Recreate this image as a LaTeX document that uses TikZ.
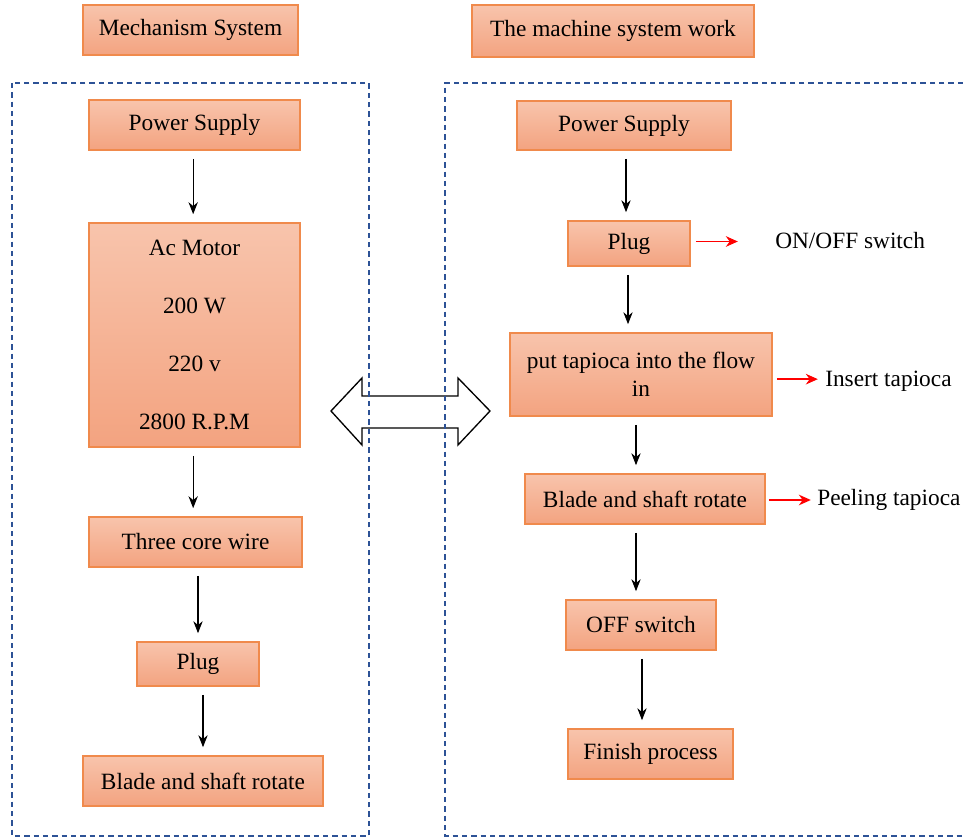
\documentclass[tikz,border=0pt]{standalone}
\usepackage{fontspec}
\setmainfont{Liberation Serif}
\newfontfamily\tms{Liberation Serif}
\usetikzlibrary{arrows.meta,calc}
\definecolor{boxtop}{RGB}{248,196,172}
\definecolor{boxbot}{RGB}{243,163,128}
\definecolor{boxline}{RGB}{240,138,76}
\definecolor{dashblue}{RGB}{45,82,150}
\begin{document}
\begin{tikzpicture}[x=0.75pt,y=-0.75pt,
 fbox/.style={draw=boxline, line width=1.2pt, top color=boxtop, bottom color=boxbot, inner sep=0pt, align=center, font=\tms\fontsize{17.5}{21}\selectfont},
 flow/.style={-{Stealth[length=9pt,width=7pt]}, line width=0.8pt, shorten <=6pt, shorten >=6pt},
 redflow/.style={-{Stealth[length=9pt,width=8pt]}, red, line width=1pt},
 lbl/.style={anchor=west, inner sep=0pt, font=\tms\fontsize{17.5}{21}\selectfont},
 group/.style={dashblue, line width=0.9pt, dash pattern=on 4pt off 3pt}]
\useasboundingbox (0,0) rectangle (963,837);

% double arrow
\draw[line width=1pt, fill=white] (331,411) -- (362,378) -- (362,396) -- (458,396) -- (458,378) -- (490,411) -- (458,445) -- (458,428) -- (362,428) -- (362,445) -- cycle;

% dashed groups
\draw[group] (12,83) rectangle (369,836);
\draw[group] (963,83) -- (445,83) -- (445,836) -- (963,836);

% titles
\node[fbox, minimum width=161.25pt, minimum height=37.5pt] (mech) at (190.5,30) {Mechanism System};
\node[fbox, minimum width=211.5pt, minimum height=39pt] (work) at (613,31) {The machine system work};

% left column
\node[fbox, minimum width=158.25pt, minimum height=37.5pt] (LPS) at (194.5,125) {Power Supply};
\node[fbox, minimum width=158.25pt, minimum height=168pt, font=\tms\fontsize{17.5}{43.5}\selectfont] (motor) at (194.5,335) {Ac Motor\\200 W\\220 v\\2800 R.P.M};
\node[fbox, minimum width=159.75pt, minimum height=37.5pt] (TCW) at (195.5,542) {Three core wire};
\node[fbox, minimum width=91.5pt, minimum height=33pt] (LPlug) at (198,664) {Plug};
\node[fbox, minimum width=180pt, minimum height=37.5pt] (LBlade) at (203,781) {Blade and shaft rotate};

\draw[flow] ([xshift=-1pt]LPS.south) -- ([xshift=-1pt]LPS.south |- motor.north);
\draw[flow] ([xshift=-1pt]motor.south) -- ([xshift=-1pt]motor.south |- TCW.north);
\draw[flow] (TCW.south -| LPlug.north) -- (LPlug.north);
\draw[flow] (LPlug.south -| LBlade.north) -- (LBlade.north);

% right column
\node[fbox, minimum width=160.5pt, minimum height=36.75pt] (RPS) at (624,125.5) {Power Supply};
\node[fbox, minimum width=91.5pt, minimum height=33.75pt] (RPlug) at (629,243.5) {Plug};
\node[fbox, minimum width=196.5pt, minimum height=62.25pt] (Tap) at (641,374.5) {put tapioca into the flow\\in};
\node[fbox, minimum width=180pt, minimum height=37.5pt] (RBlade) at (645,499) {Blade and shaft rotate};
\node[fbox, minimum width=112.5pt, minimum height=37.5pt] (OFF) at (641,625) {OFF switch};
\node[fbox, minimum width=123.75pt, minimum height=37.5pt] (Finish) at (650.5,754) {Finish process};

\draw[flow] ([xshift=1.5pt]RPS.south) -- ([xshift=1.5pt]RPS.south |- RPlug.north);
\draw[flow] ([xshift=-0.75pt]RPlug.south) -- ([xshift=-0.75pt]RPlug.south |- Tap.north);
\draw[flow] ([xshift=-3.75pt]Tap.south) -- ([xshift=-3.75pt]Tap.south |- RBlade.north);
\draw[flow] ([xshift=-6.75pt]RBlade.south) -- ([xshift=-6.75pt]RBlade.south |- OFF.north);
\draw[flow] ([xshift=0.75pt]OFF.south) -- ([xshift=0.75pt]OFF.south |- Finish.north);

% side labels
\node[lbl] (onoff) at (775,241) {ON/OFF switch};
\node[lbl] (insert) at (825,381) {Insert tapioca};
\node[lbl] (peel) at (817,500) {Peeling tapioca};

\draw[redflow] ([xshift=3.75pt,yshift=1.5pt]RPlug.east) -- ++(31.5pt,0) coordinate (e1);
\draw[redflow] ([xshift=3pt,yshift=-3.5pt]Tap.east) -- ++(30.75pt,0) coordinate (e2);
\draw[redflow] ([xshift=2.25pt,yshift=-0.75pt]RBlade.east) -- ++(31.5pt,0) coordinate (e3);
\end{tikzpicture}
\end{document}
